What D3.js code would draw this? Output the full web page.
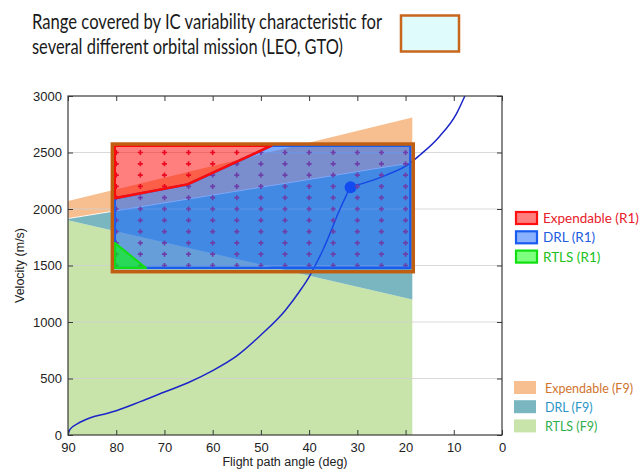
<!DOCTYPE html>
<html>
<head>
<meta charset="utf-8">
<script src="https://cdn.jsdelivr.net/npm/d3@7"></script>
<style>
  html, body { margin: 0; padding: 0; background: #fff; }
  svg { display: block; }
</style>
</head>
<body>
<svg id="chart" width="644" height="473"></svg>
<script>
// ---------------- data ----------------
const xTicks = [90, 80, 70, 60, 50, 40, 30, 20, 10, 0];
const yTicks = [0, 500, 1000, 1500, 2000, 2500, 3000];

// F9 envelopes: [angle (deg), velocity (m/s)]
const expendableF9 = [[90, 2070], [18.6, 2810], [18.6, 2410], [90, 1915]];
const drlF9 = [[90, 1915], [18.6, 2410], [18.6, 1200], [90, 1900]];
const rtlsF9 = [[90, 1900], [18.6, 1200], [18.6, 0], [90, 0]];

// R1 regions
const expendableR1 = [[80.3, 2560], [47.8, 2560], [65.2, 2218], [80.3, 2095]];
const drlR1 = [[80.3, 2095], [65.2, 2218], [47.8, 2560], [19.0, 2560], [19.0, 1478], [80.3, 1478]];
const rtlsR1 = [[80.3, 1700], [73.8, 1478], [80.3, 1478]];

// IC variability range box: [angleLeft, angleRight, vLow, vHigh]
const icBox = [80.8, 18.4, 1445, 2575];

// IC grid points
const gridAngles = [80, 75, 70, 65, 60, 55, 50, 45, 40, 35, 30, 25, 20];
const gridVels = [1500, 1600, 1700, 1800, 1900, 2000, 2100, 2200, 2300, 2400, 2500];

// reference trajectory
const trajectory = [[90, 0], [89.6, 50], [88, 100], [85.5, 150], [82, 190], [80, 215], [75, 295], [70, 380],
  [65, 465], [60, 570], [55, 700], [50, 885], [45, 1100], [42, 1270], [40, 1400], [38.5, 1520],
  [37, 1650], [35.5, 1800], [34, 1960], [32.5, 2100], [31.4, 2192], [28.8, 2227], [24, 2300],
  [19.1, 2404], [17, 2478], [13, 2640], [9.4, 2847], [7.7, 3000]];
const trajPoint = [31.4, 2192];

const legendR1 = [
  { label: "Expendable (R1)", fill: "rgba(255,0,0,0.5)", stroke: "#ff1010", text: "#e8202a" },
  { label: "DRL (R1)", fill: "rgba(20,100,255,0.5)", stroke: "#1a5cf0", text: "#1e5ce0" },
  { label: "RTLS (R1)", fill: "rgba(0,255,0,0.5)", stroke: "#10e010", text: "#20c020" }
];
const legendF9 = [
  { label: "Expendable (F9)", fill: "#f7bf8f", text: "#d0742e" },
  { label: "DRL (F9)", fill: "#7ab6c0", text: "#2a96c8" },
  { label: "RTLS (F9)", fill: "#c8e4aa", text: "#2fae4e" }
];

const titleLines = ["Range covered by IC variability characteristic for",
  "several different orbital mission (LEO, GTO)"];
const titleWidths = [350, 311];

// ---------------- drawing ----------------
const svg = d3.select("#chart");
const L = 68, R = 502, T = 96, B = 435;
const x = d3.scaleLinear().domain([90, 0]).range([L, R]);
const y = d3.scaleLinear().domain([0, 3000]).range([B, T]);
const poly = d3.line().x(d => x(d[0])).y(d => y(d[1]));
const closed = pts => poly(pts) + "Z";

// title
svg.append("g").selectAll("text").data(titleLines).join("text")
  .attr("x", 32).attr("y", (d, i) => 29 + i * 25)
  .attr("font-family", "Lato, 'Open Sans', sans-serif")
  .attr("font-size", 20.5).attr("fill", "#1a1a1a")
  .attr("textLength", (d, i) => titleWidths[i]).attr("lengthAdjust", "spacingAndGlyphs")
  .text(d => d);
svg.append("rect").attr("x", 401).attr("y", 15.5).attr("width", 58).attr("height", 36)
  .attr("fill", "#e0fbfb").attr("stroke", "#c8661c").attr("stroke-width", 2.5);

svg.append("defs").append("clipPath").attr("id", "plotclip")
  .append("rect").attr("x", L).attr("y", T).attr("width", R - L).attr("height", B - T);

const plot = svg.append("g").attr("clip-path", "url(#plotclip)");

// F9 envelopes
plot.append("path").attr("d", closed(rtlsF9)).attr("fill", "#c8e4aa");
plot.append("path").attr("d", closed(drlF9)).attr("fill", "#7ab6c0");
plot.append("path").attr("d", closed(expendableF9)).attr("fill", "#f7bf8f");
plot.append("path").attr("d", poly([expendableF9[3], expendableF9[2]]))
  .attr("fill", "none").attr("stroke", "#ffffff").attr("stroke-width", 1).attr("opacity", 0.8);

// gridlines
plot.append("g").selectAll("line").data(yTicks.slice(1, -1)).join("line")
  .attr("x1", L).attr("x2", R).attr("y1", d => y(d)).attr("y2", d => y(d))
  .attr("stroke", "#cfcfcf").attr("stroke-opacity", 0.8).attr("stroke-width", 1);

// trajectory
plot.append("path").datum(trajectory)
  .attr("d", d3.line().x(d => x(d[0])).y(d => y(d[1])).curve(d3.curveMonotoneX))
  .attr("fill", "none").attr("stroke", "#1c26c8").attr("stroke-width", 1.5);
plot.append("circle").attr("cx", x(trajPoint[0])).attr("cy", y(trajPoint[1])).attr("r", 6)
  .attr("fill", "#1030e0");

// IC grid markers
const pts = [];
gridAngles.forEach(a => gridVels.forEach(v => pts.push([a, v])));
plot.append("g").selectAll("path").data(pts).join("path")
  .attr("transform", d => `translate(${x(d[0])},${y(d[1])})`)
  .attr("d", d3.symbol(d3.symbolCross, 14))
  .attr("fill", "#d81040");

// R1 regions
plot.append("path").attr("d", closed(drlR1))
  .attr("fill", "rgba(20,100,255,0.55)").attr("stroke", "#1a5cf0").attr("stroke-width", 2.5)
  .attr("stroke-linejoin", "round");
plot.append("path").attr("d", closed(expendableR1))
  .attr("fill", "rgba(255,0,0,0.5)").attr("stroke", "#ff0a0a").attr("stroke-width", 2.5)
  .attr("stroke-linejoin", "round");
plot.append("path").attr("d", closed(rtlsR1))
  .attr("fill", "rgba(0,255,0,0.6)").attr("stroke", "#10e010").attr("stroke-width", 2)
  .attr("stroke-linejoin", "round");

// IC box
plot.append("rect")
  .attr("x", x(icBox[0])).attr("y", y(icBox[3]))
  .attr("width", x(icBox[1]) - x(icBox[0])).attr("height", y(icBox[2]) - y(icBox[3]))
  .attr("fill", "none").attr("stroke", "#c05f12").attr("stroke-width", 3.5);

// axes frame and ticks
const axisCol = "#3a3a3a";
const fontAx = "'Liberation Sans', Arial, sans-serif";
svg.append("g").attr("transform", `translate(0,${B})`)
  .call(d3.axisBottom(x).tickValues(xTicks).tickSize(-5).tickPadding(8).tickFormat(d3.format("d")))
  .call(g => g.select(".domain").remove())
  .call(g => g.selectAll("line").attr("stroke", axisCol))
  .call(g => g.selectAll("text").attr("font-family", fontAx).attr("font-size", 13).attr("fill", "#222"));
svg.append("g").attr("transform", `translate(0,${T})`)
  .call(d3.axisTop(x).tickValues(xTicks).tickSize(-5).tickFormat(""))
  .call(g => g.select(".domain").remove())
  .call(g => g.selectAll("line").attr("stroke", axisCol));
svg.append("g").attr("transform", `translate(${L},0)`)
  .call(d3.axisLeft(y).tickValues(yTicks).tickSize(-5).tickPadding(6).tickFormat(d3.format("d")))
  .call(g => g.select(".domain").remove())
  .call(g => g.selectAll("line").attr("stroke", axisCol))
  .call(g => g.selectAll("text").attr("font-family", fontAx).attr("font-size", 13).attr("fill", "#222"));
svg.append("g").attr("transform", `translate(${R},0)`)
  .call(d3.axisRight(y).tickValues(yTicks).tickSize(-5).tickFormat(""))
  .call(g => g.select(".domain").remove())
  .call(g => g.selectAll("line").attr("stroke", axisCol));
svg.append("rect").attr("x", L).attr("y", T).attr("width", R - L).attr("height", B - T)
  .attr("fill", "none").attr("stroke", axisCol).attr("stroke-width", 1.2);

svg.append("text").attr("x", (L + R) / 2).attr("y", 466).attr("text-anchor", "middle")
  .attr("font-family", fontAx).attr("font-size", 12.5).attr("fill", "#222")
  .text("Flight path angle (deg)");
svg.append("text").attr("transform", `translate(24,${(T + B) / 2}) rotate(-90)`)
  .attr("text-anchor", "middle")
  .attr("font-family", fontAx).attr("font-size", 12.5).attr("fill", "#222")
  .text("Velocity (m/s)");

// legends
const legFont = "Lato, 'Open Sans', sans-serif";
const lg1 = svg.append("g").selectAll("g").data(legendR1).join("g")
  .attr("transform", (d, i) => `translate(516,${212 + i * 19.3})`);
lg1.append("rect").attr("width", 21).attr("height", 12)
  .attr("fill", d => d.fill).attr("stroke", d => d.stroke).attr("stroke-width", 2.2);
lg1.append("text").attr("x", 27).attr("y", 11).attr("font-family", legFont)
  .attr("font-size", 13.5).attr("fill", d => d.text).text(d => d.label);

const lg2 = svg.append("g").selectAll("g").data(legendF9).join("g")
  .attr("transform", (d, i) => `translate(514,${381 + i * 19.2})`);
lg2.append("rect").attr("width", 22).attr("height", 13).attr("fill", d => d.fill);
lg2.append("text").attr("x", 31).attr("y", 11.5).attr("font-family", legFont)
  .attr("font-size", 12.5).attr("fill", d => d.text).text(d => d.label);
</script>
</body>
</html>
